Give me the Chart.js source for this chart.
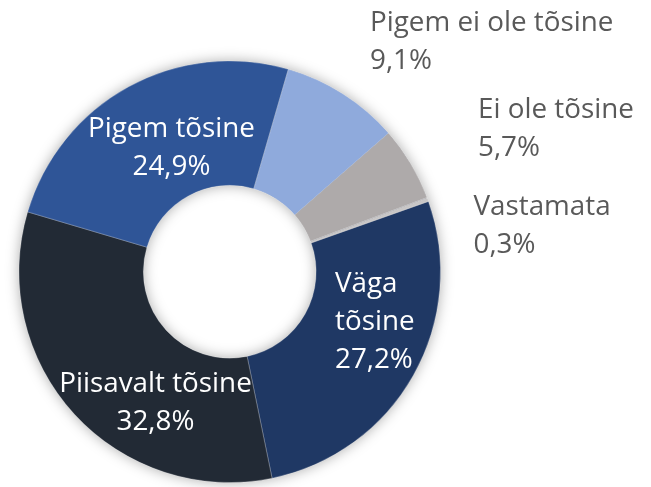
<!DOCTYPE html>
<html>
<head>
<meta charset="utf-8">
<script src="https://cdn.jsdelivr.net/npm/chart.js@4"></script>
<style>
  body { margin: 0; background: #ffffff; }
  #chart { display: block; }
</style>
</head>
<body>
<canvas id="chart" width="651" height="487"></canvas>
<script>
// データ
const categories = ['Väga tõsine', 'Piisavalt tõsine', 'Pigem tõsine', 'Pigem ei ole tõsine', 'Ei ole tõsine', 'Vastamata'];
const shares = [27.2, 32.8, 24.9, 9.1, 5.7, 0.3];
const sliceColors = ['#1f3864', '#222a35', '#2f5597', '#8faadc', '#aeaaaa', '#c8c6c6'];

// ラベルの位置 (x, 1行目のベースライン, 揃え, 色, 名前を改行するか)
const labelPlaces = [
    { x: 335, y: 291.5, align: 'left', color: '#ffffff', wrap: true },
    { x: 155.5, y: 391.5, align: 'center', color: '#ffffff' },
    { x: 171.5, y: 136.5, align: 'center', color: '#ffffff' },
    { x: 370, y: 31, align: 'left', color: '#595959' },
    { x: 478, y: 118, align: 'left', color: '#595959' },
    { x: 473.5, y: 215, align: 'left', color: '#595959' }
];
const lineGap = 38;
const labelFont = '27.8px "Open Sans", sans-serif';

// ドーナツの影
const ringShadow = {
    id: 'ringShadow',
    beforeDatasetsDraw(chart) {
        const arc = chart.getDatasetMeta(0).data[0];
        if (!arc) return;
        const ctx = chart.ctx;
        ctx.save();
        ctx.shadowColor = 'rgba(0,0,0,0.35)';
        ctx.shadowBlur = 14;
        ctx.fillStyle = '#2a3550';
        ctx.beginPath();
        ctx.arc(arc.x, arc.y, arc.outerRadius - 0.5, 0, Math.PI * 2);
        ctx.arc(arc.x, arc.y, arc.innerRadius + 0.5, Math.PI * 2, 0, true);
        ctx.closePath();
        ctx.fill();
        ctx.restore();
    }
};

// ラベルを描く
const sliceLabels = {
    id: 'sliceLabels',
    afterDatasetsDraw(chart) {
        const ctx = chart.ctx;
        ctx.save();
        ctx.font = labelFont;
        ctx.textBaseline = 'alphabetic';
        categories.forEach(function(name, i) {
            const p = labelPlaces[i];
            const lines = p.wrap ? name.split(' ') : [name];
            lines.push(shares[i].toFixed(1).replace('.', ',') + '%');
            ctx.fillStyle = p.color;
            ctx.textAlign = p.align;
            lines.forEach(function(t, j) {
                ctx.fillText(t, p.x, p.y + j * lineGap);
            });
        });
        ctx.restore();
    }
};

new Chart(document.getElementById('chart').getContext('2d'), {
    type: 'doughnut',
    data: {
        labels: categories,
        datasets: [{
            data: shares,
            backgroundColor: sliceColors,
            borderColor: 'rgba(255,255,255,0.25)',
            borderWidth: 1
        }]
    },
    options: {
        responsive: false,
        animation: false,
        rotation: 70.5,
        cutout: '41%',
        layout: { padding: { left: 18.5, top: 60.5, right: 210, bottom: 4 } },
        plugins: {
            legend: { display: false },
            tooltip: { enabled: false }
        }
    },
    plugins: [ringShadow, sliceLabels]
});
</script>
</body>
</html>
